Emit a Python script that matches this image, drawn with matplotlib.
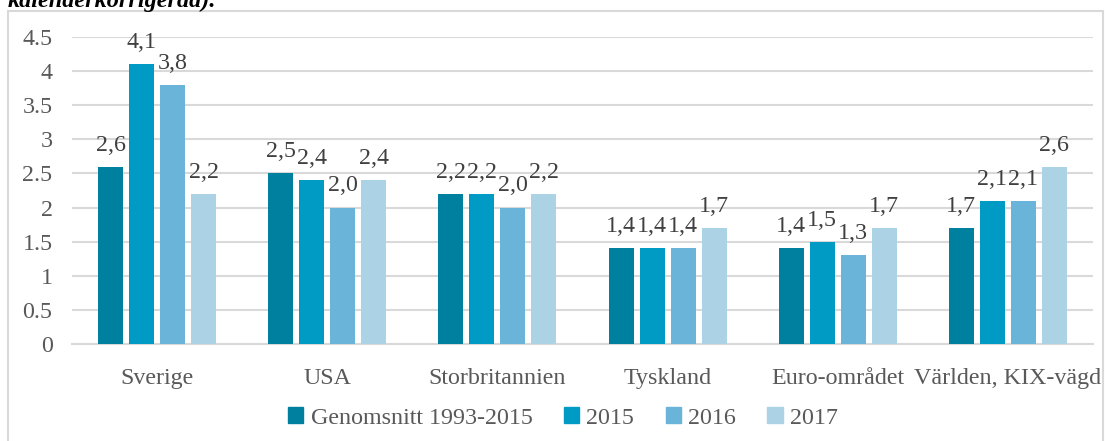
import matplotlib
matplotlib.use("Agg")
import matplotlib.pyplot as plt
import numpy as np
from matplotlib.patches import Rectangle

categories = ["Sverige", "USA", "Storbritannien", "Tyskland", "Euro-området", "Världen, KIX-vägd"]
series_names = ["Genomsnitt 1993-2015", "2015", "2016", "2017"]
genomsnitt = [2.6, 2.5, 2.2, 1.4, 1.4, 1.7]
y2015 = [4.1, 2.4, 2.2, 1.4, 1.5, 2.1]
y2016 = [3.8, 2.0, 2.0, 1.4, 1.3, 2.1]
y2017 = [2.2, 2.4, 2.2, 1.7, 1.7, 2.6]
yticks = [0, 0.5, 1, 1.5, 2, 2.5, 3, 3.5, 4, 4.5]
ytick_labels = ["0", "0.5", "1", "1.5", "2", "2.5", "3", "3.5", "4", "4.5"]

colors = ["#00809F", "#009BC4", "#69B4D8", "#ACD2E6"]
series = [genomsnitt, y2015, y2016, y2017]

plt.rcParams['font.family'] = ['Liberation Serif', 'DejaVu Serif']
FS = 17.3

W, H = 1105, 441
fig = plt.figure(figsize=(W / 100, H / 100), dpi=100)
ax = fig.add_axes([72 / W, 1 - 344 / H, (1093 - 72) / W, (344 - 37) / H])

x = np.arange(len(categories))
bw = 25 / 170
step = 31 / 170
for i, (vals, col) in enumerate(zip(series, colors)):
    pos = x + (i - 1.5) * step
    bars = ax.bar(pos, vals, width=bw, color=col, zorder=3)
    for b, v in zip(bars, vals):
        ax.annotate(f"{v:.1f}".replace(".", ","), (b.get_x() + b.get_width() / 2, v),
                    xytext=(0, 8), textcoords="offset points", ha="center", va="bottom",
                    fontsize=FS, color="#404040", zorder=4, annotation_clip=False)

ax.set_xlim(-0.5, len(categories) - 0.5)
ax.set_ylim(0, 4.5)
ax.set_yticks(yticks)
ax.set_yticklabels(ytick_labels)
ax.set_xticks(x)
ax.set_xticklabels(categories)
ax.tick_params(axis="both", length=0, labelsize=FS, colors="#595959")
ax.tick_params(axis="x", pad=17)
ax.tick_params(axis="y", pad=14)
ax.grid(axis="y", color="#D9D9D9", linewidth=1.5, zorder=0)
for s in ["top", "right", "left"]:
    ax.spines[s].set_visible(False)
ax.spines["bottom"].set_color("#D9D9D9")
ax.spines["bottom"].set_linewidth(1.5)

handles = [Rectangle((0, 0), 1, 1, color=c) for c in colors]
fig.legend(handles, series_names, loc="center", bbox_to_anchor=(563 / W, 1 - 418 / H),
           ncol=4, frameon=False, fontsize=FS, handlelength=0.65, handleheight=0.65,
           handletextpad=0.3, columnspacing=1.3, labelcolor="#595959", borderpad=0)

# outer chart border
fig.patches.append(Rectangle((8 / W, -0.05), (1103 - 8) / W, 1 - 11 / H + 0.05,
                             transform=fig.transFigure, fill=False,
                             edgecolor="#D9D9D9", linewidth=1.5))

fig.text(8 / W, 1 - 7 / H, "kalenderkorrigerad).", fontsize=17.5, fontstyle="italic",
         fontweight="bold", ha="left", va="baseline", color="black")

fig.savefig("out.png", dpi=100)
